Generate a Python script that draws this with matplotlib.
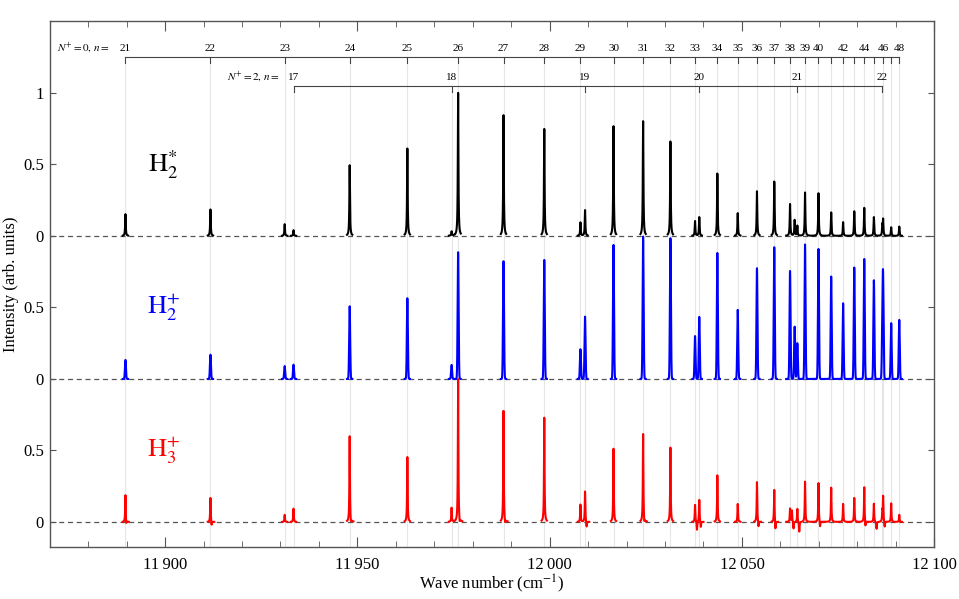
import matplotlib
matplotlib.use("Agg")
import matplotlib.pyplot as plt
import numpy as np

plt.rcParams['font.family'] = ['Liberation Serif', 'DejaVu Serif']
plt.rcParams['mathtext.fontset'] = 'stix'

# Rydberg series positions (cm^-1)
n0 = list(range(21, 49))
wn0 = [11889.7, 11911.8, 11931.1, 11948.0, 11963.0, 11976.2, 11988.0, 11998.6,
       12008.0, 12016.6, 12024.3, 12031.4, 12037.8, 12043.6, 12048.9, 12053.9,
       12058.4, 12062.5, 12066.4, 12069.9, 12073.2, 12076.3, 12079.2, 12081.8,
       12084.3, 12086.7, 12088.8, 12090.9]
n0_labels = [str(n) for n in range(21, 41)] + ["42", "44", "46", "48"]
n2 = list(range(17, 23))
wn2 = [11933.4, 11974.5, 12009.2, 12038.9, 12064.4, 12086.5]

# peak heights, N+=0 lines then N+=2 lines, plus extra unassigned features
h2star_n0 = [0.152, 0.185, 0.082, 0.494, 0.611, 1.0, 0.844, 0.748, 0.094, 0.767,
             0.802, 0.66, 0.103, 0.436, 0.159, 0.312, 0.38, 0.222, 0.303, 0.298,
             0.164, 0.096, 0.172, 0.196, 0.131, 0.11, 0.06, 0.065]
h2star_n2 = [0.04, 0.03, 0.18, 0.131, 0.07, 0.07]
h2star_extra = [(12063.7, 0.11)]

h2plus_n0 = [0.133, 0.17, 0.09, 0.508, 0.564, 0.886, 0.823, 0.832, 0.208, 0.937,
             0.995, 0.984, 0.30, 0.881, 0.483, 0.774, 0.921, 0.755, 0.94, 0.909,
             0.716, 0.529, 0.779, 0.839, 0.69, 0.646, 0.39, 0.413]
h2plus_n2 = [0.1, 0.098, 0.436, 0.434, 0.25, 0.324]
h2plus_extra = [(12063.7, 0.366)]

h3plus_n0 = [0.191, 0.17, 0.05, 0.601, 0.454, 1.0, 0.778, 0.729, 0.121, 0.512,
             0.617, 0.52, 0.12, 0.326, 0.126, 0.28, 0.228, 0.093, 0.282, 0.273,
             0.24, 0.126, 0.168, 0.245, 0.128, 0.175, 0.13, 0.05]
h3plus_n2 = [0.093, 0.098, 0.214, 0.156, 0.093, 0.07]
h3plus_extra = [(12063.0, 0.08), (11889.9, -0.03), (11912.1, -0.03), (11948.3, -0.03),
                (11976.6, -0.03), (11988.4, -0.03), (12009.6, -0.04), (12024.6, -0.03),
                (12038.3, -0.06), (12039.3, -0.04), (12054.3, -0.04), (12058.7, -0.06),
                (12063.4, -0.05), (12064.9, -0.07), (12070.3, -0.04), (12082.1, -0.04),
                (12085.0, -0.05), (12087.1, -0.04)]

offsets = [2, 1, 0]
colors = ['black', 'blue', 'red']
names = [r'$\mathrm{H}_2^{*}$', r'$\mathrm{H}_2^{+}$', r'$\mathrm{H}_3^{+}$']
widths = [0.09, 0.13, 0.08]


def build_spectrum(x, h_n0, h_n2, extra, w, gauss=False):
    centers = wn0 + wn2 + [e[0] for e in extra]
    heights = h_n0 + h_n2 + [e[1] for e in extra]
    y = np.zeros_like(x)
    for c, h in zip(centers, heights):
        if gauss:
            y += h * np.exp(-0.5 * ((x - c) / w) ** 2)
        else:
            y += h / (1 + ((x - c) / w) ** 2)
    # only measured in windows around lines, and across the dense high-n region
    near = np.min(np.abs(x[:, None] - np.array(centers)[None, :]), axis=1) < 0.7
    dense = (x > 12061.5) & (x < 12091.4)
    y[~(near | dense)] = np.nan
    return y


x = np.arange(11870, 12100, 0.01)
spectra = [
    build_spectrum(x, h2star_n0, h2star_n2, h2star_extra, widths[0]),
    build_spectrum(x, h2plus_n0, h2plus_n2, h2plus_extra, widths[1], gauss=True),
    build_spectrum(x, h3plus_n0, h3plus_n2, h3plus_extra, widths[2]),
]

fig = plt.figure(figsize=(9.59, 5.99), dpi=100)
ax = fig.add_axes([0.0518, 0.0868, 0.9224, 0.8782])
ax.set_xlim(11870, 12100)
ax.set_ylim(-0.175, 3.503)

# gray guide lines at the line positions
for w in wn0:
    ax.plot([w, w], [-0.175, 3.208], color='#e6e6e6', lw=0.8, zorder=0)
for w in wn2:
    ax.plot([w, w], [-0.175, 3.009], color='#e6e6e6', lw=0.8, zorder=0)

for off, col, y, name in zip(offsets, colors, spectra, names):
    ax.axhline(off, color='#555555', lw=0.9, ls=(0, (4, 3)), zorder=1)
    ax.plot(x, y + off, color=col, lw=1.5, zorder=2)
    ax.text(11899.5, off + 0.5, name, color=col, fontsize=19, ha='center', va='center')

# assignment brackets
y0, t0 = 3.254, 3.208
ax.plot([wn0[0], wn0[-1]], [y0, y0], color='#444444', lw=0.8)
for w in wn0:
    ax.plot([w, w], [y0, t0], color='#444444', lw=0.8)
for w, n in zip(wn0, n0):
    if str(n) in n0_labels:
        ax.text(w, 3.31, str(n), fontsize=8, ha='center', va='center')
ax.text(11885.8, 3.31, r'$N^{+}=0,\,n=$', fontsize=8, ha='right', va='center')

y2, t2 = 3.051, 3.009
ax.plot([wn2[0], wn2[-1]], [y2, y2], color='#444444', lw=0.8)
for w, n in zip(wn2, n2):
    ax.plot([w, w], [y2, t2], color='#444444', lw=0.8)
    ax.text(w, 3.105, str(n), fontsize=8, ha='center', va='center')
ax.text(11930, 3.105, r'$N^{+}=2,\,n=$', fontsize=8, ha='right', va='center')

# axes styling
ax.set_xticks([11900, 11950, 12000, 12050, 12100])
ax.set_xticklabels(['11\u2009900', '11\u2009950', '12\u2009000', '12\u2009050', '12\u2009100'])
ax.set_xticks(np.arange(11880, 12100, 10), minor=True)
ax.set_yticks([0, 0.5, 1, 1.5, 2, 2.5, 3])
ax.set_yticklabels(['0', '0.5', '0', '0.5', '0', '0.5', '1'])
ax.tick_params(axis='both', which='both', direction='in', top=True, right=True,
               color='#555555', labelsize=12)
ax.tick_params(axis='x', which='major', length=7, pad=7)
ax.tick_params(axis='x', which='minor', length=4)
ax.tick_params(axis='y', which='major', length=4, pad=4)
for s in ax.spines.values():
    s.set_color('#555555')
    s.set_linewidth(1.0)

ax.set_xlabel(r'Wave number (cm$^{-1}$)', fontsize=12, labelpad=0)
ax.set_ylabel('Intensity (arb. units)', fontsize=12, labelpad=3)

fig.savefig('out.png', dpi=100)
